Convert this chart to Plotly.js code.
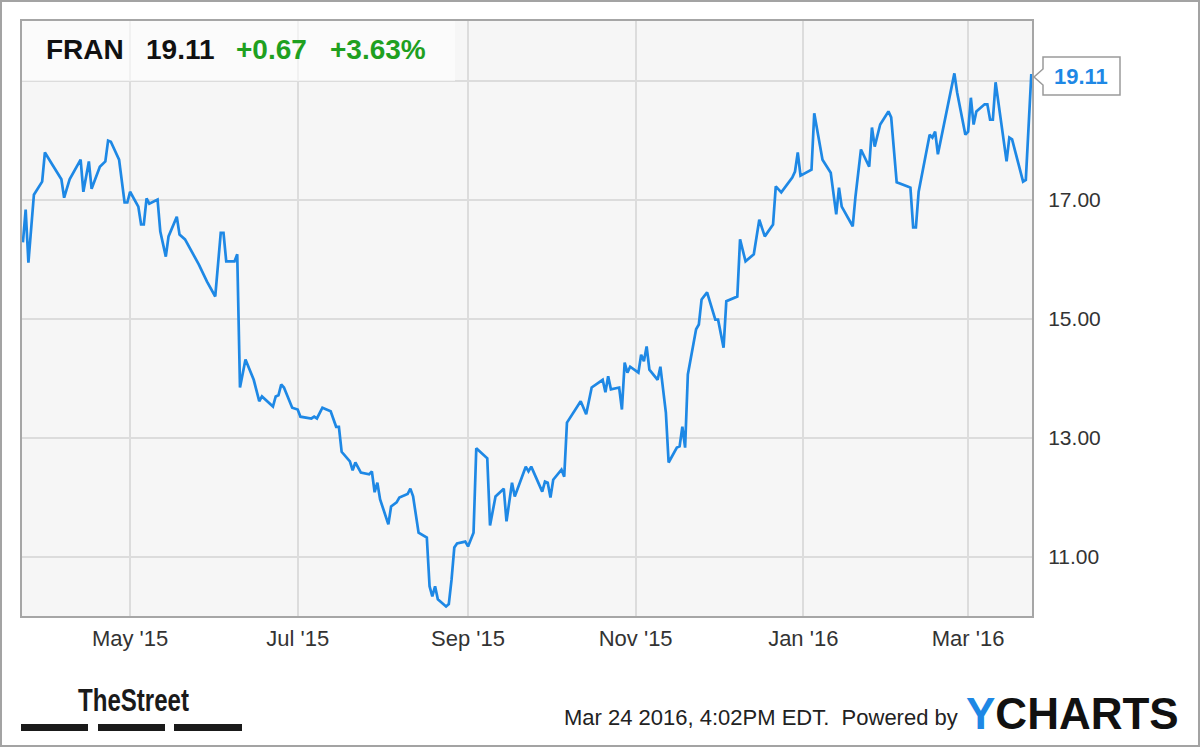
<!DOCTYPE html>
<html>
<head>
<meta charset="utf-8">
<script src="https://cdn.plot.ly/plotly-3.0.1.min.js"></script>
<style>
  html, body { margin: 0; padding: 0; background: #fff; }
  #wrap { position: relative; width: 1200px; height: 747px; }
  #chart { position: absolute; left: 0; top: 0; width: 1200px; height: 747px; }
  #frame { position: absolute; left: 0; top: 0; width: 1200px; height: 747px; box-sizing: border-box;
           border: 2px solid #a3a3a3; pointer-events: none; }
</style>
</head>
<body>
<div id="wrap"><div id="chart"></div><div id="frame"></div></div>
<script>
// ---- data ----
const dates = [
'2015-03-23','2015-03-24','2015-03-25','2015-03-27','2015-03-30','2015-03-31',
'2015-04-02','2015-04-06','2015-04-07','2015-04-09','2015-04-13','2015-04-14','2015-04-16','2015-04-17','2015-04-20','2015-04-22','2015-04-23','2015-04-24','2015-04-27','2015-04-29','2015-04-30',
'2015-05-01','2015-05-04','2015-05-05','2015-05-06','2015-05-07','2015-05-08','2015-05-11','2015-05-12','2015-05-14','2015-05-15','2015-05-18','2015-05-19','2015-05-21','2015-05-26','2015-05-28','2015-05-29',
'2015-06-01','2015-06-03','2015-06-04','2015-06-05','2015-06-08','2015-06-09','2015-06-10','2015-06-12','2015-06-15','2015-06-17','2015-06-18','2015-06-22','2015-06-23','2015-06-24','2015-06-25','2015-06-26','2015-06-29',
'2015-07-01','2015-07-02','2015-07-06','2015-07-07','2015-07-08','2015-07-10','2015-07-13','2015-07-15','2015-07-16','2015-07-17','2015-07-20','2015-07-21','2015-07-22','2015-07-24','2015-07-27','2015-07-28','2015-07-29','2015-07-30','2015-07-31',
'2015-08-03','2015-08-04','2015-08-06','2015-08-07','2015-08-10','2015-08-11','2015-08-12','2015-08-14','2015-08-17','2015-08-18','2015-08-19','2015-08-20','2015-08-21','2015-08-24','2015-08-25','2015-08-26','2015-08-27','2015-08-28','2015-08-31',
'2015-09-01','2015-09-03','2015-09-04','2015-09-08','2015-09-09','2015-09-11','2015-09-14','2015-09-15','2015-09-17','2015-09-18','2015-09-22','2015-09-23','2015-09-24','2015-09-28','2015-09-29','2015-09-30',
'2015-10-01','2015-10-02','2015-10-05','2015-10-06','2015-10-07','2015-10-12','2015-10-14','2015-10-16','2015-10-19','2015-10-20','2015-10-21','2015-10-22','2015-10-23','2015-10-26','2015-10-27','2015-10-28','2015-10-29','2015-10-30',
'2015-11-02','2015-11-03','2015-11-04','2015-11-05','2015-11-06','2015-11-09','2015-11-10','2015-11-12','2015-11-13','2015-11-16','2015-11-17','2015-11-18','2015-11-19','2015-11-20','2015-11-23','2015-11-24','2015-11-25','2015-11-27','2015-11-30',
'2015-12-01','2015-12-03','2015-12-04','2015-12-08','2015-12-09','2015-12-11','2015-12-14','2015-12-16','2015-12-18','2015-12-21','2015-12-22','2015-12-24','2015-12-28','2015-12-29','2015-12-30','2015-12-31',
'2016-01-04','2016-01-05','2016-01-08','2016-01-11','2016-01-13','2016-01-14','2016-01-15','2016-01-19','2016-01-20','2016-01-22','2016-01-25','2016-01-26','2016-01-27','2016-01-29',
'2016-02-01','2016-02-02','2016-02-04','2016-02-08','2016-02-09','2016-02-10','2016-02-11','2016-02-12','2016-02-16','2016-02-17','2016-02-18','2016-02-19','2016-02-23','2016-02-25','2016-02-26','2016-02-29',
'2016-03-01','2016-03-02','2016-03-03','2016-03-04','2016-03-07','2016-03-08','2016-03-09','2016-03-10','2016-03-11','2016-03-15','2016-03-16','2016-03-17','2016-03-21','2016-03-22','2016-03-24'
];
const prices = [
16.28,16.83,15.94,17.08,17.30,17.79,
17.64,17.34,17.03,17.34,17.67,17.13,17.64,17.18,17.55,17.64,17.99,17.97,17.67,16.95,16.95,
17.13,16.88,16.58,16.58,17.02,16.93,17.00,16.46,16.04,16.38,16.71,16.41,16.33,15.91,15.71,15.62,
15.37,16.44,16.44,15.96,15.96,16.08,13.84,14.31,13.97,13.61,13.69,13.52,13.69,13.71,13.89,13.84,13.50,
13.47,13.35,13.32,13.35,13.32,13.50,13.44,13.18,13.18,12.76,12.60,12.45,12.58,12.41,12.38,12.43,12.08,12.24,11.96,
11.54,11.84,11.91,11.99,12.05,12.14,12.01,11.40,11.32,10.50,10.33,10.50,10.28,10.16,10.20,10.61,11.15,11.22,11.25,
11.17,11.40,12.82,12.65,11.52,12.01,12.14,11.59,12.24,12.01,12.51,12.43,12.51,12.09,12.26,12.24,
11.99,12.29,12.46,12.34,13.25,13.61,13.39,13.84,13.94,13.97,13.76,14.03,13.81,13.84,13.47,14.26,14.09,14.19,
14.09,14.39,14.28,14.53,14.14,13.97,14.19,13.42,12.58,12.83,12.85,13.18,12.83,14.06,14.82,14.90,15.32,15.44,14.98,
14.98,14.51,15.29,15.37,16.33,15.96,16.08,16.66,16.38,16.58,17.22,17.12,17.37,17.47,17.79,17.40,
17.50,18.45,17.67,17.45,16.75,17.20,16.88,16.55,17.05,17.84,17.55,18.21,17.89,18.26,
18.48,18.38,17.29,17.22,17.20,16.53,16.53,17.13,18.09,18.04,18.14,17.76,18.68,19.12,18.80,18.09,
18.14,18.71,18.26,18.48,18.60,18.60,18.34,18.34,18.97,17.64,18.04,18.01,17.30,17.33,19.11
];
const xTickVals = ['2015-05-01','2015-07-01','2015-09-01','2015-11-01','2016-01-01','2016-03-01'];
const xTickText = ["May '15","Jul '15","Sep '15","Nov '15","Jan '16","Mar '16"];
const yTickVals = [11, 13, 15, 17, 19];
const yTickText = ['11.00','13.00','15.00','17.00',''];
const ticker = 'FRAN';
const lastPrice = '19.11';
const change = '+0.67';
const changePct = '+3.63%';
const stampText = 'Mar 24 2016, 4:02PM EDT.  Powered by';

// ---- layout helpers (pixel -> paper) ----
const W = 1200, H = 747, ML = 22, MR = 168, MT = 21, MB = 131;
const PW = W - ML - MR, PH = H - MT - MB;
const px = p => (p - ML) / PW;
const py = p => (H - MB - p) / PH;

const FONT = 'Liberation Sans, Arial, Helvetica, sans-serif';
const BLUE = '#1e88e5';
const GREEN = '#1fa01f';

const trace = {
  x: dates, y: prices, type: 'scatter', mode: 'lines',
  line: { color: BLUE, width: 2.7 },
  hoverinfo: 'x+y'
};

const tagPath = 'M ' + px(1043) + ',' + py(57) + ' L ' + px(1120) + ',' + py(57) +
  ' L ' + px(1120) + ',' + py(95) + ' L ' + px(1043) + ',' + py(95) +
  ' L ' + px(1043) + ',' + py(85) + ' L ' + px(1034) + ',' + py(77) +
  ' L ' + px(1043) + ',' + py(69) + ' Z';

const layout = {
  width: W, height: H,
  margin: { l: ML, r: MR, t: MT, b: MB, pad: 0 },
  paper_bgcolor: '#ffffff',
  plot_bgcolor: '#f6f6f6',
  showlegend: false,
  font: { family: FONT, color: '#333' },
  xaxis: {
    type: 'date',
    range: ['2015-03-22 16:00', '2016-03-24 06:00'],
    tickvals: xTickVals, ticktext: xTickText,
    showgrid: true, gridcolor: '#dcdcdc', gridwidth: 2,
    showline: true, mirror: true, linecolor: '#a6a6a6', linewidth: 2,
    zeroline: false, ticks: '', ticklabelstandoff: 2,
    tickfont: { family: FONT, size: 22, color: '#333' }
  },
  yaxis: {
    side: 'right',
    range: [10.0, 20.0],
    tickvals: yTickVals, ticktext: yTickText,
    showgrid: true, gridcolor: '#dcdcdc', gridwidth: 2,
    showline: true, mirror: true, linecolor: '#a6a6a6', linewidth: 2,
    zeroline: false, ticks: '', ticklabelstandoff: 10,
    tickfont: { family: FONT, size: 21, color: '#333' }
  },
  shapes: [
    { type: 'rect', xref: 'paper', yref: 'paper', x0: 0, x1: px(455), y0: py(81), y1: 1,
      fillcolor: 'rgba(255,255,255,0.6)', line: { width: 0 }, layer: 'above' },
    { type: 'path', xref: 'paper', yref: 'paper', path: tagPath,
      fillcolor: '#ffffff', line: { color: '#9a9a9a', width: 1.5 }, layer: 'above' },
    { type: 'rect', xref: 'paper', yref: 'paper', x0: px(21), x1: px(88), y0: py(731), y1: py(724),
      fillcolor: '#1a1a1a', line: { width: 0 } },
    { type: 'rect', xref: 'paper', yref: 'paper', x0: px(98), x1: px(165), y0: py(731), y1: py(724),
      fillcolor: '#1a1a1a', line: { width: 0 } },
    { type: 'rect', xref: 'paper', yref: 'paper', x0: px(174), x1: px(242), y0: py(731), y1: py(724),
      fillcolor: '#1a1a1a', line: { width: 0 } }
  ],
  annotations: [
    { xref: 'paper', yref: 'paper', x: px(44), y: py(49), xanchor: 'left', yanchor: 'middle',
      text: '<b>' + ticker + '</b>', showarrow: false, font: { family: FONT, size: 28, color: '#111' } },
    { xref: 'paper', yref: 'paper', x: px(144), y: py(49), xanchor: 'left', yanchor: 'middle',
      text: '<b>' + lastPrice + '</b>', showarrow: false, font: { family: FONT, size: 28, color: '#111' } },
    { xref: 'paper', yref: 'paper', x: px(234), y: py(49), xanchor: 'left', yanchor: 'middle',
      text: '<b>' + change + '</b>', showarrow: false, font: { family: FONT, size: 28, color: GREEN } },
    { xref: 'paper', yref: 'paper', x: px(328), y: py(49), xanchor: 'left', yanchor: 'middle',
      text: '<b>' + changePct + '</b>', showarrow: false, font: { family: FONT, size: 28, color: GREEN } },
    { xref: 'paper', yref: 'paper', x: px(1081), y: py(76), xanchor: 'center', yanchor: 'middle',
      text: '<b>' + lastPrice + '</b>', showarrow: false, font: { family: FONT, size: 22, color: BLUE } },
    { xref: 'paper', yref: 'paper', x: px(76), y: py(700), xanchor: 'left', yanchor: 'middle',
      text: '<b>TheStreet</b>', showarrow: false,
      font: { family: FONT, size: 31, color: '#1a1a1a' } },
    { xref: 'paper', yref: 'paper', x: px(562), y: py(717), xanchor: 'left', yanchor: 'middle',
      text: stampText, showarrow: false, font: { family: FONT, size: 22, color: '#222' } },
    { xref: 'paper', yref: 'paper', x: px(964), y: py(713), xanchor: 'left', yanchor: 'middle',
      text: '<b><span style="color:' + BLUE + '">Y</span>CHARTS</b>', showarrow: false,
      font: { family: FONT, size: 44, color: '#111' } }
  ]
};

Plotly.newPlot('chart', [trace], layout, { displayModeBar: false, staticPlot: true }).then(function () {
  // condense the "TheStreet" wordmark horizontally (narrow logo type)
  document.querySelectorAll('.annotation-text').forEach(function (t) {
    if (t.textContent === 'TheStreet') {
      const bb = t.getBBox();
      const target = 111;
      const s = target / bb.width;
      const x0 = bb.x;
      t.setAttribute('transform', 'translate(' + x0 + ',0) scale(' + s + ',1) translate(' + (-x0) + ',0)');
    }
  });
});
</script>
</body>
</html>
